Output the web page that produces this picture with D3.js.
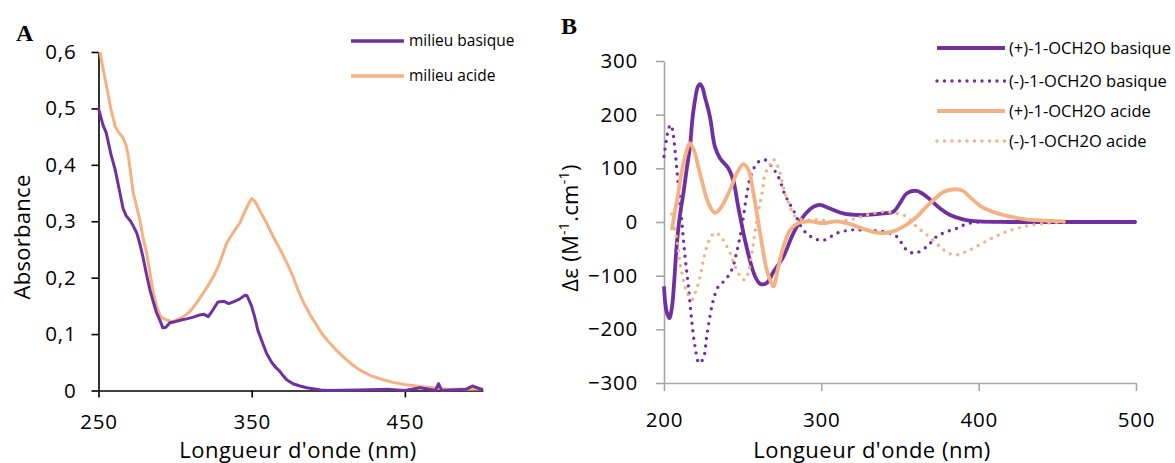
<!DOCTYPE html>
<html><head><meta charset="utf-8">
<script src="https://cdn.jsdelivr.net/npm/d3@7"></script>
<style>
body{margin:0;background:#fff}
svg{display:block}
text{font-family:"Open Sans",sans-serif;fill:#000}
</style>
</head><body>
<svg id="c" width="1175" height="463"></svg>
<script>
// ---------- Panel A data (absorbance) ----------
const aBasiqueNm  = [250,253,255,258,261,264,266,268,271,273,275,277,279,281,283.6,286,288,290,292,294,296.6,300,304,307.5,312,316,319,321.6,324,328,332,335,338,342,345.6,347,350,352,354,357,359.7,363,366,368,370,372.8,377,381.5,386,390,395,400,420,440,450,460,470,472,474,490,494,501];
const aBasiqueVal = [0.50,0.47,0.457,0.42,0.39,0.35,0.323,0.31,0.30,0.29,0.279,0.26,0.237,0.21,0.178,0.155,0.137,0.125,0.111,0.112,0.12,0.122,0.125,0.127,0.13,0.134,0.135,0.131,0.14,0.157,0.158,0.154,0.157,0.162,0.169,0.168,0.149,0.13,0.107,0.085,0.066,0.05,0.04,0.035,0.028,0.019,0.012,0.008,0.005,0.003,0.001,0.0,0.001,0.002,0.0,0.005,0.0,0.012,0.0,0.002,0.008,0.001];
const aAcideNm  = [251,253,255.3,258,260.8,263,266,268,269.5,271,272.7,275,277,279,281.4,283.5,285.8,288,290,292,294.5,298,301,305,309.7,314,318.4,322,325,329,333.6,338,342.3,346,348.8,350,352,354,357,359.7,362,364,367,370.5,374,377,380,383.6,388,392.3,396,401,405,409.7,415,420.6,428,435.8,443,451,460,468.4,475,480,490,501];
const aAcideVal = [0.60,0.57,0.539,0.50,0.469,0.458,0.448,0.435,0.415,0.385,0.35,0.325,0.302,0.272,0.244,0.21,0.173,0.15,0.134,0.128,0.125,0.122,0.125,0.13,0.14,0.155,0.173,0.188,0.202,0.225,0.261,0.28,0.297,0.32,0.335,0.34,0.336,0.326,0.31,0.297,0.284,0.273,0.258,0.24,0.22,0.202,0.18,0.157,0.135,0.116,0.1,0.084,0.072,0.06,0.047,0.036,0.026,0.019,0.014,0.01,0.007,0.005,0.003,0.002,0.002,0.003];
const aSeriesNames = ["milieu basique","milieu acide"];
const aXTicks = [250,350,450];
const aYTicks = [0,0.1,0.2,0.3,0.4,0.5,0.6];

// ---------- Panel B data (CD, delta epsilon) ----------
const bPlusBasNm  = [200,201.5,203.4,205,206.5,208,210,212.3,214.5,216.5,218,219.7,221.5,222.9,224.5,226,229.2,232.4,235.6,240.9,244,247.2,251.5,255.7,258,261,265.2,269.5,275.8,282.2,288.5,294.9,299,305.5,313.9,324.5,339.4,345.7,350,354.2,360.6,367,375.5,381.8,390,400,420,450,480,500];
const bPlusBasVal = [-120,-165,-179,-160,-110,-46,10,53,100,140,190,227,252,257,250,233,196,140,119,100,78,28,-34,-83,-102,-115,-114,-93,-65,-21,10,28,32,25,16,13,16,19,35,53,58,47,25,13,5,1,0,0,0,0];
const bMinusBasNm  = [200,201.7,203,204.4,205.5,207,209,211.2,213.4,215.5,217.6,219.7,222.3,225,227.1,229.2,231.4,234.6,238.9,243.1,246.3,249.5,252.7,255.7,260,264.2,268.5,272.7,277,282.2,288.6,295,301.3,309.8,318.3,326.8,339.4,347.8,354.2,359.4,367,373.3,379.7,386,392,400,450,500];
const bMinusBasVal = [122,156,175,181,170,134,72,4,-65,-120,-183,-232,-263,-254,-214,-176,-145,-120,-108,-89,-55,-9,53,91,112,116,103,84,50,22,-15,-30,-34,-21,-15,-15,-18,-27,-52,-58,-46,-27,-18,-12,-4,0,0,0];
const bPlusAcNm  = [205,207,209,211,213.4,216.5,219.7,222,224,228.2,232.4,236.7,242,246.3,250.5,253.7,256.9,261.1,265.3,268,269.6,272.7,275.9,280.1,285.4,292.8,301.3,309.8,318.3,328.9,339.4,347.9,358.5,369.1,377.6,385,390,395,402,410,420,430,440,455];
const bPlusAcVal = [-15,20,53,90,122,147,128,100,78,35,17,29,60,91,108,97,53,-21,-89,-112,-120,-83,-46,-15,-2,1,-2,1,-4,-15,-21,-15,4,35,56,61,58,45,28,18,10,5,3,1];
const bMinusAcNm  = [205,208,210.2,212.3,214.9,217.6,219.7,222.9,225,227.6,230.4,232.9,236.1,238.9,242,245.2,248,251.2,253.7,255.9,258,260.1,262.3,264.4,266.9,269.3,271.4,273.5,276,279.2,283.5,288.8,297.2,307.8,318.3,328.9,339.4,347.9,354.2,360.6,367,375.5,380.7,386.7,392,396.4,408.5,420.6,432.7,445,455];
const bMinusAcVal = [15,-30,-77,-108,-133,-145,-133,-102,-71,-43,-25,-20,-27,-40,-58,-83,-99,-108,-93,-58,-15,22,53,91,103,117,109,94,63,35,10,4,4,1,4,13,19,16,10,-9,-24,-46,-58,-61,-55,-49,-30,-15,-6,-2,0];
const bSeriesNames = ["(+)-1-OCH2O basique","(-)-1-OCH2O basique","(+)-1-OCH2O acide","(-)-1-OCH2O acide"];
const bXTicks = [200,300,400,500];
const bYTicks = [-300,-200,-100,0,100,200,300];

const PURPLE = "#7030A0", ORANGE = "#F4B183";

const svg = d3.select("#c");
const zip = (xs, ys) => xs.map((x, i) => [x, ys[i]]);

// ================= Panel A =================
const xA = d3.scaleLinear().domain([250, 501]).range([98.5, 483]);
const yA = d3.scaleLinear().domain([0, 0.6]).range([390.5, 52]);
const gA = svg.append("g");

const fmtA = d => d === 0 ? "0" : d3.format(".1f")(d).replace(".", ",");
const axA_y = gA.append("g").attr("transform", `translate(${xA.range()[0]},0)`)
  .call(d3.axisLeft(yA).tickValues(aYTicks).tickFormat(fmtA).tickSize(7).tickPadding(15).tickSizeOuter(0));
const axA_x = gA.append("g").attr("transform", `translate(0,${yA.range()[0]})`)
  .call(d3.axisBottom(xA).tickValues(aXTicks).tickSize(7).tickPadding(17).tickSizeOuter(0));
[axA_y, axA_x].forEach(a => {
  a.selectAll("path,line").attr("stroke", "#000").attr("stroke-width", 1.6);
  a.selectAll("text").style("font-size", "20.5px").style("letter-spacing", "0.8px").attr("fill", "#000");
});

const lineA = d3.line().x(d => xA(d[0])).y(d => yA(d[1])).curve(d3.curveLinear);
const aSeries = [
  {name: aSeriesNames[0], data: zip(aBasiqueNm, aBasiqueVal), color: PURPLE},
  {name: aSeriesNames[1], data: zip(aAcideNm, aAcideVal), color: ORANGE}
];
gA.append("path").datum(aSeries[1].data).attr("d", lineA).attr("fill","none")
  .attr("stroke", ORANGE).attr("stroke-width", 3).attr("stroke-linejoin","round");
gA.append("path").datum(aSeries[0].data).attr("d", lineA).attr("fill","none")
  .attr("stroke", PURPLE).attr("stroke-width", 3).attr("stroke-linejoin","round");

// legend A
aSeries.forEach((s, i) => {
  const y = 41 + i * 35;
  gA.append("line").attr("x1", 351).attr("x2", 404).attr("y1", y).attr("y2", y)
    .attr("stroke", s.color).attr("stroke-width", 3.5);
  gA.append("text").attr("x", 409).attr("y", y).attr("dy", "0.35em")
    .style("font-size", "15.5px").text(s.name);
});

gA.append("text").attr("transform", "translate(30,237) rotate(-90)")
  .attr("text-anchor", "middle").style("font-size", "22px").style("letter-spacing", "0.3px").text("Absorbance");
gA.append("text").attr("x", 298).attr("y", 458).attr("text-anchor", "middle")
  .style("font-size", "22px").style("letter-spacing", "0.5px").text("Longueur d'onde (nm)");
gA.append("text").attr("x", 16).attr("y", 41)
  .style("font-family", "'Liberation Serif',serif").style("font-weight", "bold").style("font-size", "24px").text("A");

// ================= Panel B =================
const xB = d3.scaleLinear().domain([200, 500]).range([664, 1136]);
const yB = d3.scaleLinear().domain([-300, 300]).range([383, 61]);
const gB = svg.append("g");

const axB_y = gB.append("g").attr("transform", `translate(${xB.range()[0]},0)`)
  .call(d3.axisLeft(yB).tickValues(bYTicks).tickFormat(d3.format("d")).tickSize(8).tickPadding(18).tickSizeOuter(0));
const axB_x = gB.append("g").attr("transform", `translate(0,${yB.range()[0]})`)
  .call(d3.axisBottom(xB).tickValues(bXTicks).tickSize(8).tickPadding(21).tickSizeOuter(0));
[axB_y, axB_x].forEach(a => {
  a.selectAll("path,line").attr("stroke", "#A6A6A6").attr("stroke-width", 1.6);
  a.selectAll("text").style("font-size", "20.5px").style("letter-spacing", "0.8px").attr("fill", "#000");
});

const lineB = d3.line().x(d => xB(d[0])).y(d => yB(d[1])).curve(d3.curveCatmullRom.alpha(0.5));
const bSeries = [
  {name: bSeriesNames[0], data: zip(bPlusBasNm, bPlusBasVal), color: PURPLE, dotted: false},
  {name: bSeriesNames[1], data: zip(bMinusBasNm, bMinusBasVal), color: PURPLE, dotted: true},
  {name: bSeriesNames[2], data: zip(bPlusAcNm, bPlusAcVal), color: ORANGE, dotted: false},
  {name: bSeriesNames[3], data: zip(bMinusAcNm, bMinusAcVal), color: ORANGE, dotted: true}
];
const styleLine = (sel, s) => {
  sel.attr("fill", "none").attr("stroke", s.color).attr("stroke-linejoin", "round");
  if (s.dotted) sel.attr("stroke-width", 3.4).attr("stroke-linecap", "round").attr("stroke-dasharray", "0 7.5");
  else sel.attr("stroke-width", 3.8);
};
bSeries.forEach(s => {
  gB.append("path").datum(s.data).attr("d", lineB).call(styleLine, s);
});

// legend B
const legY = [48, 81, 111, 141];
bSeries.forEach((s, i) => {
  const y = legY[i];
  gB.append("line").attr("x1", 937).attr("x2", 1005).attr("y1", y).attr("y2", y).call(styleLine, s);
  gB.append("text").attr("x", 1009).attr("y", y).attr("dy", "0.35em")
    .style("font-size", "16.5px").text(s.name);
});

const yt = gB.append("text").attr("transform", "translate(578,228) rotate(-90)")
  .attr("text-anchor", "middle").style("font-size", "22px").style("letter-spacing", "0.3px");
yt.append("tspan").text("Δε (M");
yt.append("tspan").attr("baseline-shift", "super").style("font-size", "14px").text("-1");
yt.append("tspan").text(".cm");
yt.append("tspan").attr("baseline-shift", "super").style("font-size", "14px").text("-1");
yt.append("tspan").text(")");
gB.append("text").attr("x", 872).attr("y", 458).attr("text-anchor", "middle")
  .style("font-size", "22px").style("letter-spacing", "0.5px").text("Longueur d'onde (nm)");
gB.append("text").attr("x", 561).attr("y", 34)
  .style("font-family", "'Liberation Serif',serif").style("font-weight", "bold").style("font-size", "24px").text("B");
</script>
</body></html>
